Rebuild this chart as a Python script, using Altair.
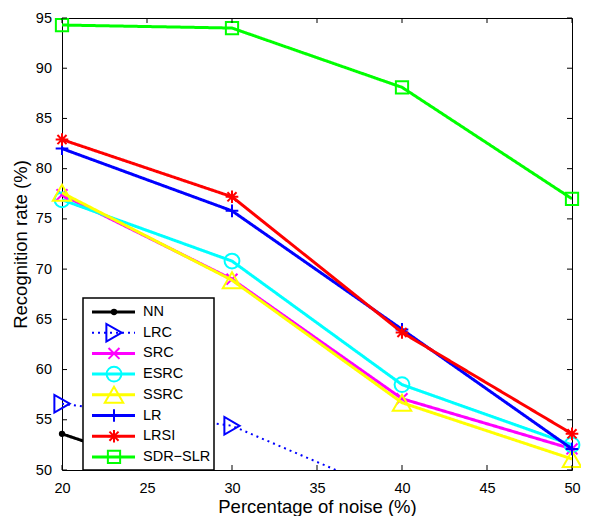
import altair as alt
import pandas as pd

# ---------------- data ----------------
noise = [20, 30, 40, 50]
series_names = ["NN", "LRC", "SRC", "ESRC", "SSRC", "LR", "LRSI", "SDR-SLR"]
nn = [53.6, 47.9, 44.0, 40.5]
lrc = [56.6, 54.4, 47.2, 45.0]
src = [77.4, 69.0, 57.1, 52.1]
esrc = [76.9, 70.8, 58.5, 52.5]
ssrc = [77.6, 68.9, 56.7, 51.1]
lr = [82.0, 75.8, 64.0, 52.1]
lrsi = [82.9, 77.2, 63.7, 53.6]
sdr_slr = [94.3, 94.0, 88.1, 77.0]
x_ticks = [20, 25, 30, 35, 40, 45, 50]
y_ticks = [50, 55, 60, 65, 70, 75, 80, 85, 90, 95]

values = [nn, lrc, src, esrc, ssrc, lr, lrsi, sdr_slr]

# ---------------- styles ----------------
colors = ["#000000", "#0000ff", "#ff00ff", "#00ffff", "#ffff00", "#0000ff", "#ff0000", "#00ff00"]
X_PATH = "M-1,-1L1,1M-1,1L1,-1"
PLUS_PATH = "M-1,0L1,0M0,-1L0,1"
STAR_PATH = "M-1,0L1,0M0,-1L0,1M-0.72,-0.72L0.72,0.72M-0.72,0.72L0.72,-0.72"
shapes = ["circle", "triangle-right", X_PATH, "circle", "triangle-up", PLUS_PATH, STAR_PATH, "square"]
sizes = [40, 310, 120, 220, 340, 160, 160, 150]
filled = [True, False, False, False, False, False, False, False]
dashes = [[1, 0], [2, 4], [1, 0], [1, 0], [1, 0], [1, 0], [1, 0], [1, 0]]
line_widths = [3, 2, 3, 3, 3, 3, 3, 3]

FONT = "Liberation Sans"
W, H = 510, 452
XMIN, XMAX, YMIN, YMAX = 20, 50, 50, 95
TICK_PX = 5

XS = alt.Scale(domain=[XMIN, XMAX], nice=False, zero=False)
YS = alt.Scale(domain=[YMIN, YMAX], nice=False, zero=False)
XA = alt.Axis(values=x_ticks, title="Percentage of noise (%)", grid=False, domain=False,
              ticks=False, tickSize=0, labelPadding=11.5, labelFontSize=14.5, titleFontSize=18.5,
              labelFont=FONT, titleFont=FONT, titleFontWeight="normal", titlePadding=2,
              labelColor="black", titleColor="black", labelFlush=False, labelOverlap=False)
YA = alt.Axis(values=y_ticks, title="Recognition rate (%)", grid=False, domain=False,
              ticks=False, tickSize=0, labelPadding=10.5, labelFontSize=14.5, titleFontSize=18.5,
              labelFont=FONT, titleFont=FONT, titleFontWeight="normal", titlePadding=5,
              labelColor="black", titleColor="black", labelFlush=False, labelOverlap=False)


def X(f):
    return alt.X(f, type="quantitative", scale=XS, axis=XA)


def Y(f):
    return alt.Y(f, type="quantitative", scale=YS, axis=YA)


def px_to_x(px):
    # pixel offset from the plot's left edge -> x data units
    return XMIN + px * (XMAX - XMIN) / W


def px_to_y(px):
    # pixel offset from the plot's bottom edge -> y data units
    return YMIN + px * (YMAX - YMIN) / H


rows = []
for name, vals in zip(series_names, values):
    for n, v in zip(noise, vals):
        rows.append({"noise": n, "rate": v, "series": name})
df = pd.DataFrame(rows)

layers = []
for i, name in enumerate(series_names):
    d = df[df.series == name]
    base = alt.Chart(d)
    layers.append(base.mark_line(color=colors[i], strokeWidth=line_widths[i],
                                 strokeDash=dashes[i], clip=True)
                  .encode(x=X("noise"), y=Y("rate")))
    pt = dict(shape=shapes[i], size=sizes[i], color=colors[i], opacity=1,
              filled=filled[i])
    if not filled[i]:
        pt["strokeWidth"] = 2
    layers.append(base.mark_point(**pt)
                  .transform_filter(alt.datum.rate >= YMIN)
                  .encode(x=X("noise"), y=Y("rate")))

# inward ticks on all four sides
xt_len = px_to_y(TICK_PX) - YMIN
yt_len = px_to_x(TICK_PX) - XMIN
trows = []
for t in x_ticks:
    trows.append({"tx": t, "tx2": t, "ty": YMIN, "ty2": YMIN + xt_len})
    trows.append({"tx": t, "tx2": t, "ty": YMAX, "ty2": YMAX - xt_len})
for t in y_ticks:
    trows.append({"tx": XMIN, "tx2": XMIN + yt_len, "ty": t, "ty2": t})
    trows.append({"tx": XMAX, "tx2": XMAX - yt_len, "ty": t, "ty2": t})
ticks = alt.Chart(pd.DataFrame(trows)).mark_rule(color="black", strokeWidth=1).encode(
    x=X("tx"), x2="tx2", y=Y("ty"), y2="ty2")
layers.append(ticks)

# legend (inside lower-left); layout given as pixel offsets inside the plot
LEG_BOX_PX = (21, 152, 0, 172)      # left, right, bottom, top
LEG_ROW0_PX, LEG_STEP_PX = 158, 20.7
LEG_LINE_PX = (30, 73)
LEG_MARK_PX, LEG_TEXT_PX = 52, 81

box = alt.Chart(pd.DataFrame([{
    "bx": px_to_x(LEG_BOX_PX[0]), "bx2": px_to_x(LEG_BOX_PX[1]),
    "by": px_to_y(LEG_BOX_PX[2]), "by2": px_to_y(LEG_BOX_PX[3])}])).mark_rect(
    fill="white", stroke="black", strokeWidth=1.5).encode(
    x=X("bx"), x2="bx2", y=Y("by"), y2="by2")
layers.append(box)

for i, name in enumerate(series_names):
    ly = px_to_y(LEG_ROW0_PX - i * LEG_STEP_PX)
    ld = pd.DataFrame([{"lx0": px_to_x(LEG_LINE_PX[0]), "lx1": px_to_x(LEG_LINE_PX[1]),
                        "mx": px_to_x(LEG_MARK_PX), "tx": px_to_x(LEG_TEXT_PX),
                        "ly": ly, "name": name.replace("-", "\u2212")}])
    b = alt.Chart(ld)
    layers.append(b.mark_rule(color=colors[i], strokeWidth=line_widths[i],
                              strokeDash=dashes[i]).encode(x=X("lx0"), x2="lx1", y=Y("ly")))
    pt = dict(shape=shapes[i], size=sizes[i], color=colors[i], opacity=1, filled=filled[i])
    if not filled[i]:
        pt["strokeWidth"] = 2
    layers.append(b.mark_point(**pt).encode(x=X("mx"), y=Y("ly")))
    layers.append(b.mark_text(align="left", baseline="middle", fontSize=14.5, font=FONT,
                              color="black").encode(x=X("tx"), y=Y("ly"), text="name:N"))

chart = alt.layer(*layers).properties(
    width=W, height=H,
    autosize=alt.AutoSizeParams(type="none"),
    padding={"left": 54, "top": 10, "right": 9, "bottom": 46},
    background="white",
).configure_view(stroke="black", strokeWidth=1)

chart.save("out.html", embed_options={"renderer": "svg", "actions": False})
